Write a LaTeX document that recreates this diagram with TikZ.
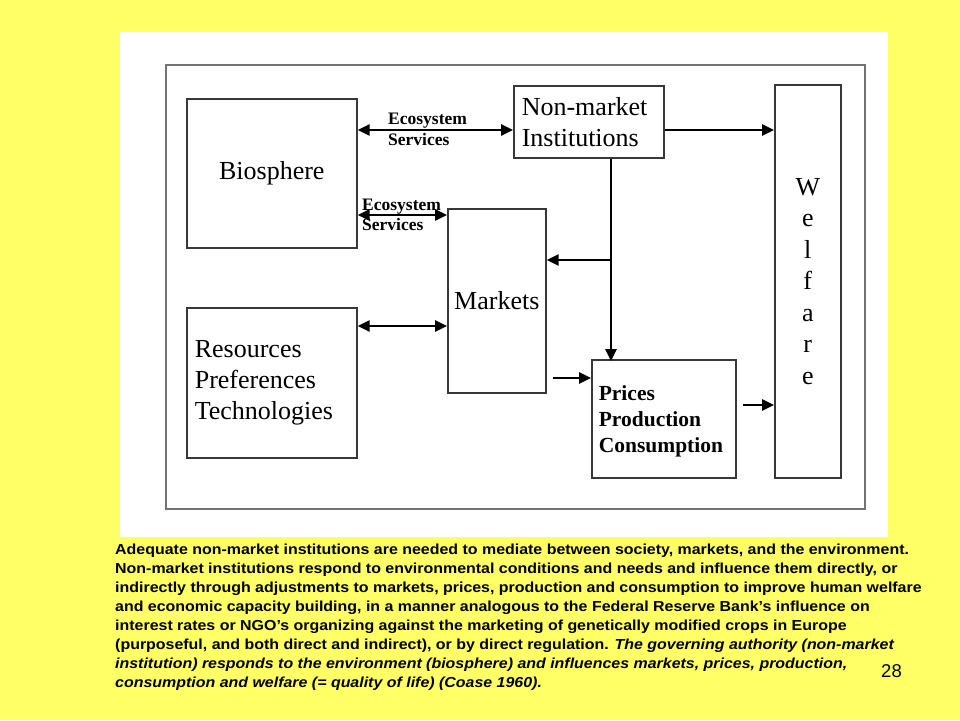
\documentclass[tikz,border=0pt]{standalone}
\usepackage{fontspec}
\setmainfont{Liberation Serif}
\newfontfamily\capfont[FakeStretch=1.1]{Liberation Sans}
\newfontfamily\pgfont{Liberation Sans}
\usetikzlibrary{arrows.meta}
\definecolor{slideyellow}{RGB}{255,255,102}
\begin{document}
\begin{tikzpicture}[x=1pt,y=-1pt,
  box/.style={draw=black!78,line width=1.6pt,fill=white,inner sep=0pt},
  bigtxt/.style={font=\fontsize{26}{31}\selectfont},
  arr/.style={line width=2.6pt,-{Triangle[length=12pt,width=11pt]}},
  darr/.style={line width=2.6pt,{Triangle[length=12pt,width=11pt]}-{Triangle[length=12pt,width=11pt]}},
  eco/.style={font=\bfseries\fontsize{17.5}{20.5}\selectfont,align=left,inner sep=0pt,anchor=west},
  capline/.style={anchor=base west,inner sep=0pt,font=\capfont\bfseries\fontsize{14.5}{19}\selectfont}]
\useasboundingbox (0,0) rectangle (960,720);
\fill[slideyellow] (0,0) rectangle (960,720);
\fill[white] (120,32) rectangle (888,537);
\draw[black!55,line width=2pt] (166,65) rectangle (865,509);

\node[box,bigtxt,minimum width=170pt,minimum height=149pt,anchor=north west] (bio) at (186,98) {Biosphere};
\node[box,bigtxt,align=left,text width=154pt,inner xsep=8pt,minimum height=150pt,anchor=north west] (res) at (186,307) {Resources\\Preferences\\Technologies};
\node[box,bigtxt,align=left,text width=134pt,inner xsep=8pt,minimum height=72pt,anchor=north west] (nm) at (513,85) {Non-market\\Institutions};
\node[box,bigtxt,minimum width=98pt,minimum height=184pt,anchor=north west] (mk) at (447,208) {Markets};
\node[box,font=\bfseries\fontsize{21.5}{26}\selectfont,align=left,text width=130pt,inner xsep=7pt,minimum height=118pt,anchor=north west] (pp) at (591,359) {\rule{0pt}{20.5pt}Prices\\Production\\Consumption};
\node[box,font=\fontsize{26}{31.5}\selectfont,align=center,minimum width=66pt,minimum height=393pt,anchor=north west] (wf) at (774,84) {W\\e\\l\\f\\a\\r\\e};

\coordinate (a1) at (0,130);
\coordinate (a2) at (0,215);
\coordinate (a3) at (0,326);
\coordinate (a4) at (0,378);
\coordinate (a5) at (0,405);
\coordinate (j) at (611,260);

\draw[darr] (bio.east |- a1) -- (nm.west |- a1);
\draw[darr] (bio.east |- a2) -- (mk.west |- a2);
\draw[darr] (res.east |- a3) -- (mk.west |- a3);
\draw[arr] (nm.east |- a1) -- (wf.west |- a1);
\draw[arr] (nm.south -| j) -- ([yshift=-2pt]pp.north -| j);
\draw[arr] (j) -- (mk.east |- j);
\draw[arr] ([xshift=6pt]mk.east |- a4) -- (pp.west |- a4);
\draw[arr] ([xshift=6pt]pp.east |- a5) -- (wf.west |- a5);

\node[eco] (e1) at (388,129.5) {Ecosystem\\Services};
\node[eco] (e2) at (362,215) {Ecosystem\\Services};

\node[capline] (c1) at (115,554.5) {Adequate non-market institutions are needed to mediate between society, markets, and the environment.};
\node[capline] (c2) at (115,573.5) {Non-market institutions respond to environmental conditions and needs and influence them directly, or};
\node[capline] (c3) at (115,592.5) {indirectly through adjustments to markets, prices, production and consumption to improve human welfare};
\node[capline] (c4) at (115,611.5) {and economic capacity building, in a manner analogous to the Federal Reserve Bank’s influence on};
\node[capline] (c5) at (115,630.5) {interest rates or NGO’s organizing against the marketing of genetically modified crops in Europe};
\node[capline] (c6) at (115,649.5) {(purposeful, and both direct and indirect), or by direct regulation. \textit{The governing authority (non-market}};
\node[capline] (c7) at (115,668.5) {\textit{institution) responds to the environment (biosphere) and influences markets, prices, production,}};
\node[capline] (c8) at (115,687.5) {\textit{consumption and welfare (= quality of life) (Coase 1960).}};
\node[anchor=base west,inner sep=0pt,font=\pgfont\fontsize{18.5}{22}\selectfont] (pg) at (881,677.5) {28};
\end{tikzpicture}
\end{document}
